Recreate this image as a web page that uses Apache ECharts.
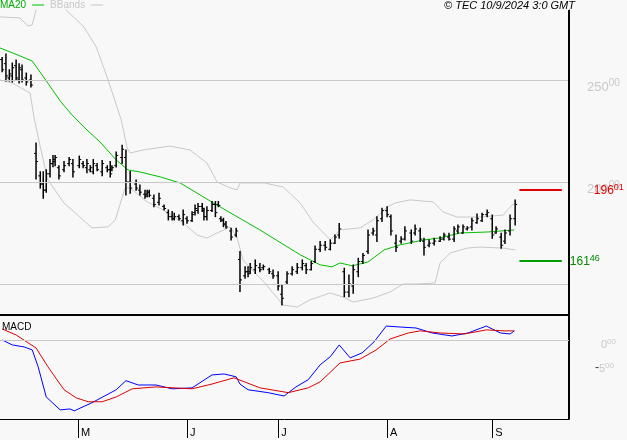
<!DOCTYPE html>
<html><head><meta charset="utf-8">
<script src="https://cdn.jsdelivr.net/npm/echarts@6/dist/echarts.min.js"></script>
<style>html,body{margin:0;padding:0;background:#f8f8f8}#c{width:627px;height:440px}</style>
</head><body><div id="c"></div>
<script>
// OHLC bars (price); barPos = position of each bar on the time axis (bar slots)
const barPos = [0,0.9,1.7,2.4,3.3,4.0,4.7,5.7,6.8,8.0,9.0,9.7,10.4,11.3,12.0,12.5,13.4,14.6,15.8,16.7,18.2,19.1,20.0,20.8,21.5,22.4,23.6,24.8,25.5,25.9,26.9,28.3,29.2,30.2,31.6,32.5,33.7,34.2,34.7,35.8,37.0,38.2,39.2,40.1,40.6,41.7,42.7,43.6,44.8,45.5,46.2,47.2,47.6,48.3,49.5,50.3,51.0,51.6,52.2,52.8,54.0,55.2,56.1,57.3,58.0,58.5,59.7,60.8,61.6,63.0,63.9,65.1,66.0,67.2,68.4,69.6,70.8,71.7,72.9,73.8,75.0,76.2,77.4,78.5,79.5,80.7,81.8,82.8,84.0,85.1,86.3,87.5,88.4,89.6,90.8,91.7,92.9,94.1,95.0,96.5,97.4,98.6,99.5,100.7,101.9,103.3,104.2,105.4,106.6,107.5,108.7,109.7,110.8,112.0,113.2,114.4,115.6,116.5,117.7,118.6,119.8,121.0];
const barHigh = [261,262.7,255,258.3,259.8,258,257.4,253.4,252.5,219.1,205,205,206,211,213,213,208,210,212,211,212.7,210,211,208,211,209,210.5,208,210,208,214.7,218,215.7,205.1,201,198.5,196,196,196,193.6,194.5,188.7,186.3,185.5,184.7,183.8,186.3,183,185.4,188.7,189.5,189.5,187.1,187.9,190.4,190.4,190.4,183,182.2,180.6,177.3,177.3,165.9,158.5,158.5,160.1,161.8,160.1,159.3,157.7,156.9,156,149.5,156,158.5,160.1,161.8,160.1,161,168.6,170.8,170.8,171.6,174,179.7,157.7,154.4,159.3,162.6,165,176.5,177.3,183,187.1,187.9,183.8,174,173.2,178.1,176.5,178.9,177.3,172.4,171.6,172.4,173.2,174.9,174.9,178.1,178.9,178.9,178.1,182.2,184.3,184.7,186.3,183.8,178.1,174.9,176.5,183.8,191.2];
const barLow = [254,249.5,249.5,249,250,248.5,249,247.5,246.6,201.5,197,192,195,202.5,207.5,208,201.5,205,208,202.5,207,207,204.5,205,204,205.5,203,205,202.5,205.5,207.4,209,193.6,194.5,196,193.6,192,192.8,192.8,187.9,188.7,186.3,181.4,181.4,181.4,181.4,178.9,179.8,180.6,183.8,184.7,185.5,181.4,181.4,185.5,183,187.9,180.6,178.1,177.3,171.6,173.2,146.3,152.8,153.6,155.2,155.2,156,157,155.2,152.8,147.1,139.7,150.3,154.4,155.2,156.9,155.2,156.9,160.5,165.9,166.7,166.7,169.9,172.4,143.8,143.8,145.4,153.6,160.1,165,174,170.8,180.6,183,174,165.9,170,171.6,169.9,174,170.8,164.2,168.3,169.1,170.8,171.6,171.6,170.8,174.9,174.9,176.5,176.5,179.8,180.6,183,172.4,174.9,167.5,169.9,174,178.9];
const barOpen = [260,258,251,252,257,250,255,251,250,214,203,199,196,204,209,210,207,206,209,209,208,209,207,206,205,208,205,207,206,206,208,212,212,200,199,196,194,194,195,192,190,188,185,183,182,183,181,182,181,185,186,188,186,183,186,189,189,182,181,179.5,176,174,162,154,156,156,157,158,158,157,155,154,145,151,155,156,158,159,157,161,167,169,167,170,174,156,146,149,156,161,166,175,174,182,186,183,170,171,172,175,175,176,171,169,170,171,172,173,172,176,175,177,178,180,181,184,182,175,173,171,176,182];
const barClose = [255,252,253,256,251,256,250,249,247.5,210,199,196,204,209,211,212,203,208,211,205,211,208,209,207,209,206,209,206,204,207,213,216,200,197,197,195,193,195,193.5,189,192,187,183,182,183,182,184,181,184,187,188,187,183,186,189,185,188.5,181.5,179,178,173,176,152,156,155,158,159,157,158.5,156,154,149,143,155,157,158,160,157,160,167,169,168,170,173,177,146,150,157,161,164,174,176,181,186,184,176,168,172,176,171,177,172,168,170,171,172,174,172,177,178,178,177.5,181,182,184,185,174,177,169,175,182,189];
// overlays: [slot, value]
const ma20Pts = [[-0.5,265.7],[4.2,261.8],[7.1,259.3],[10.6,249],[13.7,239.7],[16.5,232.8],[20,225.5],[23.1,219.6],[26.9,210.8],[29.7,205.9],[32.5,204.9],[37.3,202.5],[42,199.5],[51.4,187.8],[60.8,176.5],[70.3,164.3],[75,159.4],[77.8,158.4],[79.7,160.3],[82.6,158.9],[86.3,160.8],[90.1,166.7],[93.9,169.2],[99.5,171.6],[103.3,172.6],[108,175],[114.6,175.5],[120.8,176.5]];
const bbUpperPts = [[-0.5,280.9],[4.2,280.4],[6.1,276.5],[7.1,277],[8,284.3],[9,291.7],[11.3,304],[13.2,299],[15.1,284.3],[19.3,276],[22.2,266.2],[25,250],[28.1,230.4],[29.5,216.7],[30.2,214.2],[33.3,215.7],[39.6,217.6],[44.3,215.7],[48.3,209.3],[50.7,200],[53.8,197.1],[55.4,196.1],[56.1,199.5],[62,199.5],[66.3,197.5],[70.3,189.7],[73.3,180.4],[77.4,171.6],[79.7,176.5],[84.4,177.5],[87.5,181.4],[90.8,187.7],[92.7,189.7],[96.2,191.2],[101.7,190.2],[104,185.3],[107.3,182.8],[112.7,182.8],[118.2,183.8],[119.8,187.7],[121,189.7]];
const bbLowerPts = [[-0.5,250],[2.4,248.5],[6.6,243.6],[7.5,231.9],[9,217.2],[10.8,201],[14.6,189.7],[21.2,177.5],[25,178],[26.7,181.4],[29,197.1],[30.2,197.1],[34.2,190.2],[38,186.3],[42.7,179.9],[46,174],[48.3,172.5],[50.7,175],[53.8,177.9],[55.4,173],[56.8,161.8],[58.5,157.8],[62,150.5],[63.9,145.6],[66.3,139.7],[69.6,138.7],[72.6,142.2],[77.4,145.6],[80.4,143.6],[82.8,141.2],[87.5,143.1],[91.5,146.1],[94.6,150],[98.1,150],[102.1,150.5],[103.3,160.3],[105.7,165.2],[109.7,167.6],[112.7,168.1],[118.2,167.6],[121,166.7]];
const macdPts = [[0,0],[2.4,-1.04],[5.2,-1.46],[7.1,-2.08],[8.5,-5.6],[10.4,-11.9],[13.7,-14.6],[16,-14.4],[17,-14.8],[21.2,-13.1],[26.9,-10.4],[29.2,-8.5],[32.1,-9.4],[36.3,-9.4],[40.1,-10.2],[44.8,-10],[49.5,-7.3],[52.4,-7.1],[55.2,-7.7],[56.1,-9.2],[58,-10.4],[62.7,-11],[66.5,-11.7],[69.3,-9.8],[72.2,-8.3],[75,-5.2],[77.4,-3.5],[79.5,-1.04],[82.1,-3.75],[84.9,-2.7],[87.7,-0.42],[90.6,2.9],[93.9,2.7],[97.6,2.5],[101.4,1.46],[106.1,0.83],[109.9,1.46],[114.2,2.9],[117.5,1.46],[119.8,1.25],[120.8,1.9]];
const signalPts = [[0,2.3],[3.3,1.04],[8,-1.67],[10.8,-5.6],[14.6,-10.4],[17.5,-12.1],[20.3,-12.9],[23.6,-12.9],[26.9,-11.9],[30.7,-10.2],[36.3,-9.8],[44.8,-10.2],[49.5,-9.2],[54.7,-7.9],[60.8,-10],[67.5,-11],[72.2,-10],[75,-8.75],[79.7,-4.8],[84.4,-4],[88.2,-2.1],[91.5,0.2],[95.8,1.46],[98.6,1.9],[103.3,1.46],[109,1.25],[114.2,2.1],[118.4,1.9],[120.8,1.9]];
const monthTicks = [17.9,43.6,65.1,90.8,115.6];
const monthLabels = ['M','J','J','A','S'];
const priceGrid = [250,200,150];
const priceLabels = [250,200];
const resistance = 196.01, support = 161.46;
const macdLabels = [0,-5];

const FONT = 'Liberation Sans, Arial, sans-serif';
const XMAX = 133.7;
const bars = barHigh.map((h,i)=>[barPos[i],h,barLow[i],barOpen[i],barClose[i]]);
function fmt2(v){const s=Math.abs(v).toFixed(2).split('.');return (v<0?'-':'')+'{a|'+s[0]+'}{b|'+s[1]+'}';}
const chart = echarts.init(document.getElementById('c'));
const lbl = (color,size,dist)=>({show:true,position:'end',distance:dist,fontFamily:FONT,
  rich:{a:{fontSize:size,color:color,fontFamily:FONT,verticalAlign:'bottom',lineHeight:size+2},b:{fontSize:size-3,color:color,fontFamily:FONT,verticalAlign:'top',lineHeight:size+2}}});
const edge = {silent:true,symbol:'none',animation:false,label:{show:false},lineStyle:{color:'#000',width:1,type:'solid'},data:[{xAxis:XMAX-0.06}]};
chart.setOption({
  animation:false,
  backgroundColor:'#f8f8f8',
  textStyle:{fontFamily:FONT},
  title:[{text:'© TEC 10/9/2024 3:0 GMT',right:52,top:0,padding:0,textStyle:{fontSize:11,fontStyle:'italic',fontWeight:'normal',color:'#000',fontFamily:FONT}},
         {text:'MACD',left:2,top:322,padding:0,textStyle:{fontSize:10,fontWeight:'normal',color:'#000',fontFamily:FONT}}],
  legend:{left:0,top:0,padding:0,align:'right',itemGap:6,itemWidth:12,itemHeight:1,icon:'rect',
    data:[{name:'MA20',textStyle:{color:'#00b000'}},{name:'BBands',textStyle:{color:'#c8c8c8'}}],
    textStyle:{fontSize:10,fontFamily:FONT,padding:[0,1,0,0]}},
  grid:[{left:0,right:58,top:10,height:305},{left:0,right:58,top:316,height:103}],
  xAxis:[
    {type:'value',gridIndex:0,min:-0.5,max:XMAX,axisLine:{show:true,onZero:false,lineStyle:{color:'#000',width:2}},axisTick:{show:false},axisLabel:{show:false},splitLine:{show:false}},
    {type:'value',gridIndex:1,min:-0.5,max:XMAX,axisLine:{show:true,onZero:false,lineStyle:{color:'#000',width:1}},
      axisTick:{show:true,customValues:monthTicks,length:19,lineStyle:{color:'#000'}},
      axisLabel:{show:true,customValues:monthTicks,formatter:v=>{const k=monthTicks.findIndex(t=>Math.abs(t-v)<0.01);return k>=0?monthLabels[k]:'';},
        align:'left',padding:[0,0,0,3],margin:8,fontSize:11,color:'#000',fontFamily:FONT},splitLine:{show:false}}
  ],
  yAxis:[
    {type:'value',gridIndex:0,position:'right',min:134.8,max:284.3,axisLine:{show:true,onZero:false,lineStyle:{color:'#000'}},axisTick:{show:false},axisLabel:{show:false},splitLine:{show:false}},
    {type:'value',gridIndex:1,position:'right',min:-16.5,max:5,axisLine:{show:true,onZero:false,lineStyle:{color:'#000'}},axisTick:{show:false},axisLabel:{show:false},splitLine:{show:false}}
  ],
  series:[
    {type:'line',name:'grid',xAxisIndex:0,yAxisIndex:0,data:[],silent:true,
      markLine:{silent:true,symbol:'none',animation:false,lineStyle:{color:'#c8c8c8',width:1,type:'solid'},
        data:priceGrid.map(v=>({yAxis:v,label:priceLabels.includes(v)?Object.assign(lbl('#c8c8c8',13,18),{formatter:fmt2(v),padding:[12,0,0,0]}):{show:false}}))}},
    {type:'line',name:'edge1',xAxisIndex:0,yAxisIndex:0,data:[],silent:true,markLine:edge,z:6},
    {type:'line',name:'edge2',xAxisIndex:1,yAxisIndex:1,data:[],silent:true,markLine:edge,z:6},
    {type:'line',name:'BBands',xAxisIndex:0,yAxisIndex:0,data:bbUpperPts,showSymbol:false,lineStyle:{color:'#c8c8c8',width:1},itemStyle:{color:'#c8c8c8'},clip:true},
    {type:'line',name:'BBands',xAxisIndex:0,yAxisIndex:0,data:bbLowerPts,showSymbol:false,lineStyle:{color:'#c8c8c8',width:1},itemStyle:{color:'#c8c8c8'},clip:true},
    {type:'line',name:'MA20',xAxisIndex:0,yAxisIndex:0,data:ma20Pts,showSymbol:false,lineStyle:{color:'#00c000',width:1},itemStyle:{color:'#00c000'},z:3},
    {type:'custom',name:'price',xAxisIndex:0,yAxisIndex:0,data:bars,encode:{x:0,y:[1,2]},z:4,clip:true,
      renderItem:(params,api)=>{const x=api.value(0);
        const h=api.coord([x,api.value(1)]),l=api.coord([x,api.value(2)]),o=api.coord([x,api.value(3)]),c=api.coord([x,api.value(4)]);
        return {type:'group',children:[
          {type:'line',shape:{x1:h[0],y1:h[1]-0.5,x2:l[0],y2:l[1]+0.5},style:{stroke:'#000',lineWidth:1.5}},
          {type:'line',shape:{x1:o[0]-2,y1:o[1],x2:o[0],y2:o[1]},style:{stroke:'#000',lineWidth:1}},
          {type:'line',shape:{x1:c[0],y1:c[1],x2:c[0]+2,y2:c[1]},style:{stroke:'#000',lineWidth:1}}]};}},
    {type:'line',name:'levels',xAxisIndex:0,yAxisIndex:0,data:[],silent:true,
      markLine:{silent:true,symbol:'none',animation:false,data:[
        [{coord:[122,resistance],lineStyle:{color:'#e00000',width:2,type:'solid'},label:Object.assign(lbl('#e00000',12,32),{formatter:fmt2(resistance)})},{coord:[132,resistance]}],
        [{coord:[122,support],lineStyle:{color:'#00a000',width:2,type:'solid'},label:Object.assign(lbl('#008800',12,8),{formatter:fmt2(support)})},{coord:[132,support]}]
      ]}},
    {type:'line',name:'MACD',xAxisIndex:1,yAxisIndex:1,data:macdPts,showSymbol:false,lineStyle:{color:'#0000ff',width:1},z:3,
      markLine:{silent:true,symbol:'none',animation:false,data:macdLabels.map(v=>({yAxis:v,lineStyle:{color:v===0?'#c8c8c8':'rgba(0,0,0,0)',width:1,type:'solid'},
        label:Object.assign(lbl('#c8c8c8',11,v===0?32:26),{formatter:fmt2(v),padding:[8,0,0,0]})}))}},
    {type:'line',name:'Signal',xAxisIndex:1,yAxisIndex:1,data:signalPts,showSymbol:false,lineStyle:{color:'#dd0000',width:1},z:4}
  ]
});
</script></body></html>
